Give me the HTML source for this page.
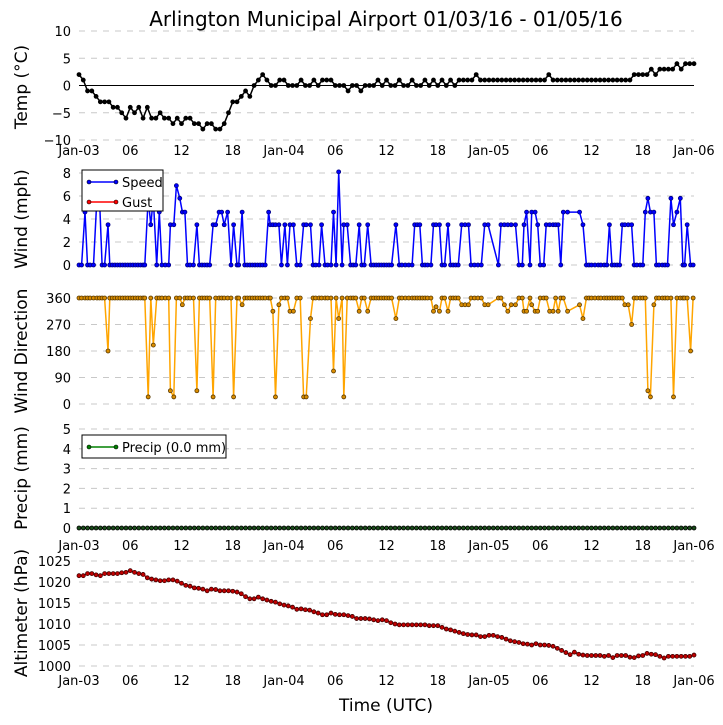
<!DOCTYPE html>
<html><head><meta charset="utf-8"><style>
body{margin:0;background:#fff}
svg{display:block;font-family:"DejaVu Sans","Liberation Sans",sans-serif}
</style></head><body>
<svg id="chart" width="723" height="725" viewBox="0 0 723 725" xmlns="http://www.w3.org/2000/svg">
<text x="386" y="26" text-anchor="middle" font-size="20">Arlington Municipal Airport 01/03/16 - 01/05/16</text>
<text x="386" y="711" text-anchor="middle" font-size="17">Time (UTC)</text>
<g id="layer"></g>
</svg>
<script>
// ---- data (hours since Jan-03 00Z) ----
const xTickLabels=["Jan-03","06","12","18","Jan-04","06","12","18","Jan-05","06","12","18","Jan-06"];
const tempValues=[2,1,-1,-1,-2,-3,-3,-3,-4,-4,-5,-6,-4,-5,-4,-6,-4,-6,-6,-5,-6,-6,-7,-6,-7,-6,-6,-7,-7,-8,-7,-7,-8,-8,-7,-5,-3,-3,-2,-1,-2,0,1,2,1,0,0,1,1,0,0,0,1,0,0,1,0,1,1,1,0,0,0,-1,0,0,-1,0,0,0,1,0,1,0,0,1,0,0,1,0,0,1,0,1,0,1,0,1,0,1,1,1,1,2,1,1,1,1,1,1,1,1,1,1,1,1,1,1,1,1,2,1,1,1,1,1,1,1,1,1,1,1,1,1,1,1,1,1,1,1,2,2,2,2,3,2,3,3,3,3,4,3,4,4,4];
const altValues=[1021.5,1021.5,1022,1022,1021.7,1021.5,1022,1022,1022,1022,1022.2,1022.3,1022.7,1022.3,1022,1021.8,1021,1020.7,1020.5,1020.3,1020.3,1020.5,1020.5,1020.2,1019.7,1019.2,1019,1018.6,1018.5,1018.3,1017.9,1018.3,1018.2,1017.9,1017.9,1017.9,1017.8,1017.6,1017.2,1016.5,1016,1016,1016.4,1016,1015.7,1015.4,1015.2,1014.8,1014.5,1014.3,1014,1013.5,1013.6,1013.4,1013.3,1012.9,1012.6,1012.2,1012.2,1012.6,1012.3,1012.2,1012.2,1012,1011.8,1011.3,1011.3,1011.3,1011.2,1011,1010.8,1011,1010.8,1010.3,1010,1009.8,1009.8,1009.8,1009.8,1009.8,1009.8,1009.8,1009.6,1009.6,1009.6,1009.2,1008.8,1008.6,1008.3,1008,1007.7,1007.5,1007.4,1007.4,1007,1007,1007.3,1007.3,1007,1006.8,1006.4,1006,1005.8,1005.6,1005.3,1005.2,1005,1005.3,1005,1005,1004.9,1004.7,1004.2,1003.7,1003.2,1002.7,1003.3,1002.8,1002.6,1002.5,1002.5,1002.5,1002.5,1002.3,1002.5,1002,1002.5,1002.5,1002.5,1002.1,1002,1002.4,1002.5,1003,1002.8,1002.7,1002.3,1001.9,1002.3,1002.3,1002.3,1002.3,1002.3,1002.3,1002.6];
const precipValues=new Array(145).fill(0);
const windTimes=[0,0.3,0.7,1.0,1.3,1.7,2.1,2.4,2.7,3.0,3.4,3.6,
3.9,4.2,4.5,4.8,5.1,5.4,5.7,6.0,6.3,6.6,6.9,7.2,7.5,7.7,
8.1,8.4,8.7,9.1,9.4,9.7,10.1,10.5,10.7,11.1,11.4,11.8,12.1,12.4,
12.7,13.0,13.4,13.8,14.1,14.4,14.7,15.0,15.3,15.7,16.0,16.4,16.7,17.0,17.4,17.8,
18.1,18.5,18.7,19.1,19.4,19.7,20.0,20.3,20.6,20.9,21.2,21.5,21.8,
22.2,22.4,22.7,23.0,23.4,23.7,24.1,24.4,24.7,25.1,25.5,25.9,26.3,26.6,27.1,
27.4,27.7,28.1,28.4,28.8,29.1,29.5,29.8,30.1,30.4,30.8,31.0,31.4,31.8,
32.1,32.4,32.8,33.1,33.4,33.8,34.2,34.5,34.8,35.1,35.4,35.7,36.0,36.3,36.6,
37.1,37.5,37.8,38.2,38.6,39.0,39.3,39.6,39.9,40.2,40.5,40.8,41.2,
41.5,41.8,42.2,42.5,42.8,43.2,43.5,43.8,44.1,44.4,44.8,45.2,45.6,45.9,46.3,46.7,47.1,47.5,47.9,
49.1,49.4,49.8,50.2,50.6,51.1,51.5,51.9,52.1,52.4,52.8,53.0,53.4,53.7,
54.0,54.4,54.7,55.1,55.5,55.8,56.1,56.4,56.7,57.2,58.6,59.0,
59.4,59.7,60.0,60.4,60.8,61.1,61.5,61.8,62.1,62.4,62.7,63.0,63.3,63.6,63.9,64.3,64.7,
65.0,65.3,65.7,66.0,66.3,66.6,66.9,67.3,67.6,67.9,68.3,68.6,68.9,69.3,69.6,70.0,70.4,70.7,70.9,71.2,71.6,71.9];
const windSpeed=[0,0,4.6,0,0,0,5.8,5.8,0,0,3.5,0,
0,0,0,0,0,0,0,0,0,0,0,0,0,0,
5.8,3.5,5.8,0,4.6,0,0,0,3.5,3.5,6.9,5.8,4.6,4.6,
0,0,0,3.5,0,0,0,0,0,3.5,3.5,4.6,4.6,3.5,4.6,0,
3.5,0,0,4.6,0,0,0,0,0,0,0,0,0,
4.6,3.5,3.5,3.5,3.5,0,3.5,0,3.5,3.5,0,0,3.5,3.5,3.5,
0,0,0,3.5,0,0,0,4.6,0,8.1,0,3.5,3.5,0,
0,0,3.5,0,0,3.5,0,0,0,0,0,0,0,0,0,
3.5,0,0,0,0,0,3.5,3.5,3.5,0,0,0,0,
3.5,3.5,3.5,0,0,3.5,0,0,0,0,3.5,3.5,3.5,0,0,0,0,3.5,3.5,
0,3.5,3.5,3.5,3.5,3.5,0,0,3.5,4.6,0,4.6,4.6,3.5,
0,0,3.5,3.5,3.5,3.5,3.5,0,4.6,4.6,4.6,3.5,
0,0,0,0,0,0,0,0,3.5,0,0,0,0,3.5,3.5,3.5,3.5,
0,0,0,0,4.6,5.8,4.6,4.6,0,0,0,0,0,5.8,3.5,4.6,5.8,0,0,3.5,0,0];
const windDir=[360,360,360,360,360,360,360,360,360,360,180,360,
360,360,360,360,360,360,360,360,360,360,360,360,360,360,
24,360,200,360,360,360,360,360,45,24,360,360,337,360,
360,360,360,45,360,360,360,360,360,24,360,360,360,360,360,360,
24,360,360,337,360,360,360,360,360,360,360,360,360,
360,360,315,24,337,360,360,360,315,315,360,360,24,24,290,
360,360,360,360,360,360,360,112,360,290,360,24,360,360,
360,360,315,360,360,315,360,360,360,360,360,360,360,360,360,
290,360,360,360,360,360,360,360,360,360,360,360,360,
315,330,315,360,360,315,360,360,360,360,337,337,337,360,360,360,360,337,337,
360,360,337,315,337,337,360,360,315,315,360,337,315,315,
360,360,360,315,315,360,315,360,360,315,337,290,
360,360,360,360,360,360,360,360,360,360,360,360,360,360,337,337,270,
360,360,360,360,360,45,24,337,360,360,360,360,360,360,24,360,360,360,360,360,180,360];

// ---- rendering ----
const NS="http://www.w3.org/2000/svg";
const layer=document.getElementById('layer');
const X0=79,X1=694,HMAX=72;
function xScale(h){return X0+(h/HMAX)*(X1-X0);}
function mk(tag,attrs,parent){const e=document.createElementNS(NS,tag);for(const k in attrs)e.setAttribute(k,attrs[k]);(parent||layer).appendChild(e);return e;}
function yScaleFactory(vmin,vmax,ybot,ytop){return v=>ybot-(v-vmin)/(vmax-vmin)*(ybot-ytop);}

const panels=[
 {key:'temp',label:'Temp (\u00b0C)',ticks:[-10,-5,0,5,10],tickText:['\u221210','\u22125','0','5','10'],vmin:-10,vmax:10,ytop:31,ybot:140,lblY:87},
 {key:'wind',label:'Wind (mph)',ticks:[0,2,4,6,8],tickText:['0','2','4','6','8'],vmin:0,vmax:8,ytop:173,ybot:265,lblY:219},
 {key:'dir',label:'Wind Direction',ticks:[0,90,180,270,360],tickText:['0','90','180','270','360'],vmin:0,vmax:360,ytop:298,ybot:404,lblY:351},
 {key:'precip',label:'Precip (mm)',ticks:[0,1,2,3,4,5],tickText:['0','1','2','3','4','5'],vmin:0,vmax:5,ytop:429,ybot:528,lblY:478},
 {key:'alt',label:'Altimeter (hPa)',ticks:[1000,1005,1010,1015,1020,1025],tickText:['1000','1005','1010','1015','1020','1025'],vmin:1000,vmax:1025,ytop:561,ybot:666,lblY:613}
];
panels.forEach(p=>{
 p.y=yScaleFactory(p.vmin,p.vmax,p.ybot,p.ytop);
 const g=mk('g',{});
 
 
 p.ticks.forEach((t,i)=>{
  const yy=p.y(t);
  const gl=mk('line',{x1:X0,x2:X1,y1:yy,y2:yy,stroke:'#c8c8c8','stroke-width':1,'stroke-dasharray':'6,6'},g);
  
  
  const tl=mk('text',{x:71,y:yy+5,'text-anchor':'end','font-size':13},g);
  tl.textContent=p.tickText[i];
  
  
 });
 const lb=mk('text',{x:0,y:0,'text-anchor':'middle','font-size':17,transform:`translate(27,${p.lblY}) rotate(-90)`},g);
 lb.textContent=p.label;
 
 
 p.g=g;
});
// x tick labels under temp, precip, altimeter
[155,550,685].forEach((yy,k)=>{
 xTickLabels.forEach((s,i)=>{
  const t=mk('text',{x:xScale(i*6),y:yy,'text-anchor':'middle','font-size':13});
  t.textContent=s;
  
  
 });
});
// zero line for temp
const zl=mk('line',{x1:X0,x2:X1,y1:panels[0].y(0),y2:panels[0].y(0),stroke:'#000','stroke-width':1});



function series(p,times,vals,color,dotFill,dotStroke,name){
 const pts=times.map((h,i)=>xScale(h).toFixed(1)+','+p.y(vals[i]).toFixed(1)).join(' ');
 const pl=mk('polyline',{points:pts,fill:'none',stroke:color,'stroke-width':1.5},p.g);
 
 
 times.forEach((h,i)=>{
  const c=mk('circle',{cx:xScale(h),cy:p.y(vals[i]),r:2,fill:dotFill,stroke:dotStroke,'stroke-width':0.8},p.g);
  
  
 });
}
const halfTimes=tempValues.map((v,i)=>i*0.5);
const altTimes=altValues.map((v,i)=>i*0.5);
const precipTimes=precipValues.map((v,i)=>i*0.5);
series(panels[0],halfTimes,tempValues,'#000','#000','#000','temperature');
series(panels[1],windTimes,windSpeed,'#0000ff','#0000ff','#000080','wind-speed');
series(panels[2],windTimes,windDir,'#ffa500','#d98c00','#5a3a00','wind-direction');
series(panels[3],precipTimes,precipValues,'#008000','#1a4d1a','#000','precip');
series(panels[4],altTimes,altValues,'#ff0000','#c00000','#400000','altimeter');

// legends
function legend(x,y,w,h,entries,name){
 const g=mk('g',{});
 
 
 mk('rect',{x:x,y:y,width:w,height:h,fill:'#fff',stroke:'#000','stroke-width':1},g);
 entries.forEach((e,i)=>{
  const yy=y+12+i*20;
  mk('line',{x1:x+7,x2:x+34,y1:yy,y2:yy,stroke:e.c,'stroke-width':1.5},g);
  mk('circle',{cx:x+7,cy:yy,r:2,fill:e.c,stroke:'#000','stroke-width':0.6},g);
  mk('circle',{cx:x+34,cy:yy,r:2,fill:e.c,stroke:'#000','stroke-width':0.6},g);
  const t=mk('text',{x:x+40,y:yy+5,'font-size':13},g);
  t.textContent=e.t;
  
  
 });
}
legend(82,170,81,41,[{t:'Speed',c:'#0000ff'},{t:'Gust',c:'#ff0000'}],'wind-legend');
legend(82,435,144,23,[{t:'Precip (0.0 mm)',c:'#008000'}],'precip-legend');
</script>
</body></html>
